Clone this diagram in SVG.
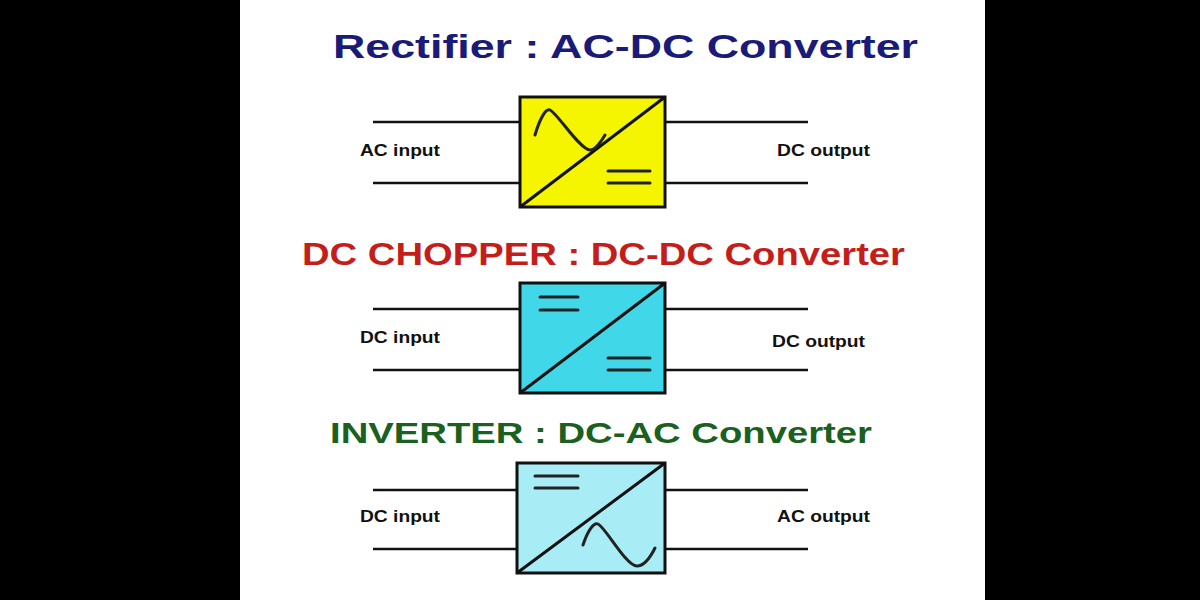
<svg xmlns="http://www.w3.org/2000/svg" width="1200" height="600" viewBox="0 0 1200 600">
<style>
.t{font-family:"Liberation Sans",Arial,sans-serif;font-weight:bold}
.l{font-family:"Liberation Sans",Arial,sans-serif;font-weight:bold;font-size:16px;fill:#111}
.w{stroke:#111;stroke-width:2.5;fill:none}
.b{stroke:#111;stroke-width:3}
.s{stroke:#222;stroke-width:3;fill:none;stroke-linecap:round}
</style>
<rect width="1200" height="600" fill="#000"/>
<rect x="240" y="0" width="745" height="600" fill="#fff"/>
<text class="t" x="333" y="58" font-size="34" fill="#1a1a78" textLength="585" lengthAdjust="spacingAndGlyphs">Rectifier : AC-DC Converter</text>
<text class="t" x="302" y="265" font-size="31" fill="#c41e1a" textLength="603" lengthAdjust="spacingAndGlyphs">DC CHOPPER  : DC-DC Converter</text>
<text class="t" x="330" y="443" font-size="30" fill="#1a6020" textLength="542" lengthAdjust="spacingAndGlyphs">INVERTER  : DC-AC Converter</text>
<g id="connectors">
<path class="w" d="M373 122H520M373 183H520M665 122H808M665 183H808"/>
<path class="w" d="M373 309H520M373 370H520M665 309H808M665 370H808"/>
<path class="w" d="M373 490H517M373 549H517M665 490H808M665 549H808"/>
</g>
<g id="rectifier">
<rect x="520" y="97" width="145" height="110" fill="#f5f500" class="b"/>
<line x1="520" y1="207" x2="665" y2="97" class="b"/>
<path class="s" d="M535 135C540 118 546 108 550 110C558 114 580 150 590 150C596 150 602 140 605 135"/>
<path class="s" d="M608 171H650M608 183H650"/>
<text class="l" x="360" y="156" textLength="80" lengthAdjust="spacingAndGlyphs">AC input</text>
<text class="l" x="777" y="156" textLength="93" lengthAdjust="spacingAndGlyphs">DC output</text>
</g>
<g id="chopper">
<rect x="520" y="283" width="145" height="110" fill="#40d8e8" class="b"/>
<line x1="520" y1="393" x2="665" y2="283" class="b"/>
<path class="s" d="M540 297H578M540 310H578M608 358H650M608 370H650"/>
<text class="l" x="360" y="343" textLength="80" lengthAdjust="spacingAndGlyphs">DC input</text>
<text class="l" x="772" y="347" textLength="93" lengthAdjust="spacingAndGlyphs">DC output</text>
</g>
<g id="inverter">
<rect x="517" y="463" width="148" height="110" fill="#a8ecf5" class="b"/>
<line x1="517" y1="573" x2="665" y2="463" class="b"/>
<path class="s" d="M535 476H578M535 488H578"/>
<path class="s" d="M583 545C588 530 594 522 598 524C606 528 626 566 637 566C645 566 651 556 655 548"/>
<text class="l" x="360" y="522" textLength="80" lengthAdjust="spacingAndGlyphs">DC input</text>
<text class="l" x="777" y="522" textLength="93" lengthAdjust="spacingAndGlyphs">AC output</text>
</g>
</svg>
